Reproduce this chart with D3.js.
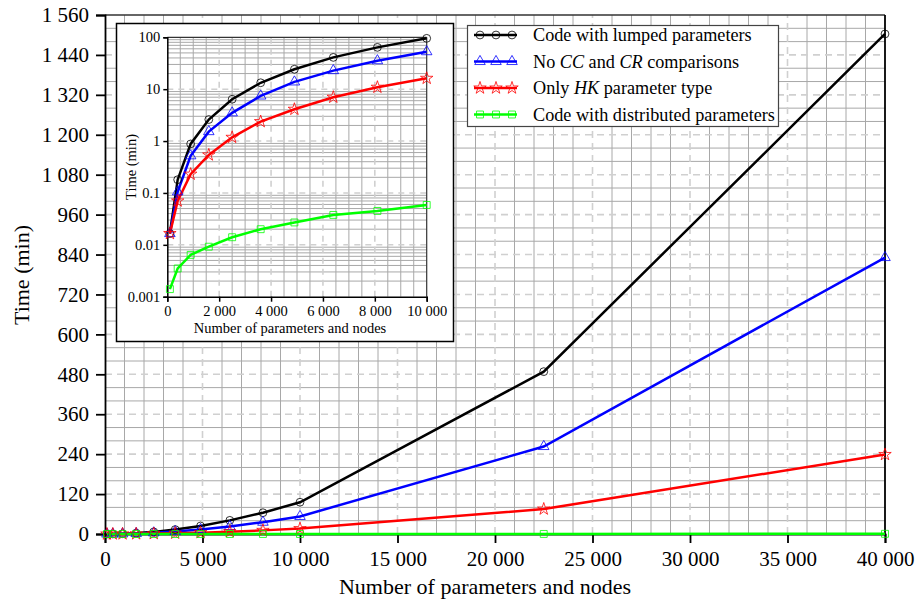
<!DOCTYPE html>
<html>
<head>
<meta charset="utf-8">
<script src="https://cdn.jsdelivr.net/npm/d3@7"></script>
<style>
  body { margin: 0; background: #fff; }
  svg text { font-family: "Liberation Serif", "Times New Roman", Times, serif !important; }
</style>
</head>
<body>
<svg id="chart" width="919" height="601"></svg>
<script>
// Data (x = number of parameters and nodes, y = time in minutes)
const nodes = [100, 400, 900, 1600, 2500, 3600, 4900, 6400, 8100, 10000, 22500, 40000];
const lumped = [0.0165, 0.18, 0.88, 2.6, 6.4, 13.3, 24.2, 41, 64, 95.5, 488, 1503];
const noCCCR = [0.0165, 0.105, 0.52, 1.52, 3.5, 7.4, 13.8, 22.8, 35.4, 52.8, 263, 831];
const onlyHK = [0.0165, 0.07, 0.23, 0.54, 1.18, 2.37, 4.1, 7.0, 10.9, 16.2, 75, 239];
const distributed = [0.0014, 0.0035, 0.0064, 0.0092, 0.014, 0.020, 0.027, 0.0377, 0.045, 0.0587, 0.2, 0.55];

const yTicks = d3.range(0, 1561, 120);
const xTicks = d3.range(0, 40001, 5000);
const insetXTicks = d3.range(0, 10001, 2000);
const insetYTicks = [0.001, 0.01, 0.1, 1, 10, 100];

const series = [
  { name: "lumped", values: lumped, color: "#000000", symbol: d3.symbolCircle, label: [["Code with lumped parameters", false]] },
  { name: "nocc", values: noCCCR, color: "#0000ff", symbol: d3.symbolTriangle, label: [["No ", false], ["CC", true], [" and ", false], ["CR", true], [" comparisons", false]] },
  { name: "hk", values: onlyHK, color: "#ff0000", symbol: d3.symbolStar, label: [["Only ", false], ["HK", true], [" parameter type", false]] },
  { name: "dist", values: distributed, color: "#00ff00", symbol: d3.symbolSquare, label: [["Code with distributed parameters", false]] }
];

const loc = d3.formatLocale({ decimal: ".", thousands: "\u00a0", grouping: [3], currency: ["", ""] });
const fmt = loc.format(",d");

const svg = d3.select("#chart");

// ---- main chart ----
const x = d3.scaleLinear().domain([0, 40000]).range([105, 885]);
const y = d3.scaleLinear().domain([0, 1560]).range([534, 15]);

const grid = svg.append("g");
// minor grid
grid.selectAll(".vmin")
  .data(d3.range(0, 40001, 1000).filter(d => d % 5000 !== 0))
  .enter().append("line")
  .attr("x1", d => x(d)).attr("x2", d => x(d))
  .attr("y1", y(0)).attr("y2", y(1560))
  .attr("stroke", "#a8a8a8").attr("stroke-width", 1);
grid.selectAll(".hmin")
  .data(d3.range(0, 1561, 40).filter(d => d % 120 !== 0))
  .enter().append("line")
  .attr("x1", x(0)).attr("x2", x(40000))
  .attr("y1", d => y(d)).attr("y2", d => y(d))
  .attr("stroke", "#a8a8a8").attr("stroke-width", 1);
// major dashed grid
grid.selectAll(".vmaj")
  .data(xTicks.filter(d => d > 0 && d < 40000))
  .enter().append("line")
  .attr("x1", d => x(d)).attr("x2", d => x(d))
  .attr("y1", y(0)).attr("y2", y(1560))
  .attr("stroke", "#d0d0d0").attr("stroke-width", 1.6).attr("stroke-dasharray", "7,5");
grid.selectAll(".hmaj")
  .data(yTicks.filter(d => d > 0 && d < 1560))
  .enter().append("line")
  .attr("x1", x(0)).attr("x2", x(40000))
  .attr("y1", d => y(d)).attr("y2", d => y(d))
  .attr("stroke", "#d0d0d0").attr("stroke-width", 1.6).attr("stroke-dasharray", "7,5");

// frame top/right
svg.append("line").attr("x1", x(0)).attr("x2", x(40000)).attr("y1", y(1560)).attr("y2", y(1560))
  .attr("stroke", "#333").attr("stroke-width", 1.5);
svg.append("line").attr("x1", x(40000)).attr("x2", x(40000)).attr("y1", y(1560)).attr("y2", y(0))
  .attr("stroke", "#000").attr("stroke-width", 1.8);

// axes
const yAxis = d3.axisLeft(y).tickValues(yTicks).tickSize(9).tickPadding(7).tickFormat(fmt);
const xAxis = d3.axisBottom(x).tickValues(xTicks).tickSize(9).tickPadding(8).tickFormat(fmt);
const gy = svg.append("g").attr("transform", `translate(${x(0)},0)`).call(yAxis);
const gx = svg.append("g").attr("transform", `translate(0,${y(0)})`).call(xAxis);
[gy, gx].forEach(g => {
  g.attr("font-family", null);
  g.select(".domain").attr("stroke", "#000").attr("stroke-width", 1.8);
  g.selectAll(".tick line").attr("stroke", "#000").attr("stroke-width", 1.8);
  g.selectAll("text").attr("font-size", 21).attr("fill", "#000");
});

svg.append("text")
  .attr("x", 485).attr("y", 594)
  .attr("text-anchor", "middle").attr("font-size", 22)
  .text("Number of parameters and nodes");
svg.append("text")
  .attr("transform", "translate(29,275) rotate(-90)")
  .attr("text-anchor", "middle").attr("font-size", 22)
  .text("Time (min)");

// lines and markers
const line = d3.line().x((d, i) => x(nodes[i])).y(d => y(d));
series.forEach(s => {
  svg.append("path")
    .datum(s.values)
    .attr("d", line)
    .attr("fill", "none")
    .attr("stroke", s.color)
    .attr("stroke-width", 2.5);
});
series.forEach(s => {
  svg.selectAll(".m-" + s.name)
    .data(s.values)
    .enter().append("path")
    .attr("transform", (d, i) => `translate(${x(nodes[i])},${y(d)})`)
    .attr("d", d3.symbol().type(s.symbol).size(48))
    .attr("fill", "none")
    .attr("stroke", s.color)
    .attr("stroke-width", 0.8);
});

// ---- inset ----
const inset = svg.append("g");
inset.append("rect")
  .attr("x", 116.5).attr("y", 23.5).attr("width", 337).attr("height", 318)
  .attr("fill", "#fff").attr("stroke", "#000").attr("stroke-width", 1.5);

const xi = d3.scaleLinear().domain([0, 10000]).range([167.3, 426.7]);
const yi = d3.scaleLog().domain([0.001, 100]).range([296.7, 37.3]);

const minorLog = [];
[0.001, 0.01, 0.1, 1, 10].forEach(dec => d3.range(2, 10).forEach(k => minorLog.push(dec * k)));

inset.selectAll(".ivmin")
  .data(d3.range(500, 10000, 500).filter(d => d % 2000 !== 0))
  .enter().append("line")
  .attr("x1", d => xi(d)).attr("x2", d => xi(d))
  .attr("y1", yi(0.001)).attr("y2", yi(100))
  .attr("stroke", "#a8a8a8").attr("stroke-width", 1);
inset.selectAll(".ihmin")
  .data(minorLog)
  .enter().append("line")
  .attr("x1", xi(0)).attr("x2", xi(10000))
  .attr("y1", d => yi(d)).attr("y2", d => yi(d))
  .attr("stroke", "#a8a8a8").attr("stroke-width", 1);
inset.selectAll(".ivmaj")
  .data(insetXTicks.filter(d => d > 0 && d < 10000))
  .enter().append("line")
  .attr("x1", d => xi(d)).attr("x2", d => xi(d))
  .attr("y1", yi(0.001)).attr("y2", yi(100))
  .attr("stroke", "#d0d0d0").attr("stroke-width", 1.6).attr("stroke-dasharray", "6,5");
inset.selectAll(".ihmaj")
  .data(insetYTicks.filter(d => d > 0.001 && d < 100))
  .enter().append("line")
  .attr("x1", xi(0)).attr("x2", xi(10000))
  .attr("y1", d => yi(d)).attr("y2", d => yi(d))
  .attr("stroke", "#d0d0d0").attr("stroke-width", 1.6).attr("stroke-dasharray", "6,5");

inset.append("line").attr("x1", xi(0)).attr("x2", xi(10000)).attr("y1", yi(100)).attr("y2", yi(100))
  .attr("stroke", "#333").attr("stroke-width", 1.2);
inset.append("line").attr("x1", xi(10000)).attr("x2", xi(10000)).attr("y1", yi(100)).attr("y2", yi(0.001))
  .attr("stroke", "#333").attr("stroke-width", 1.2);

const iyAxis = d3.axisLeft(yi).tickValues(insetYTicks).tickSize(4).tickPadding(3).tickFormat(d => String(d));
const ixAxis = d3.axisBottom(xi).tickValues(insetXTicks).tickSize(5).tickPadding(4).tickFormat(fmt);
const giy = inset.append("g").attr("transform", `translate(${xi(0)},0)`).call(iyAxis);
const gix = inset.append("g").attr("transform", `translate(0,${yi(0.001)})`).call(ixAxis);
[giy, gix].forEach(g => {
  g.attr("font-family", null);
  g.select(".domain").attr("stroke", "#000").attr("stroke-width", 1.5);
  g.selectAll(".tick line").attr("stroke", "#000").attr("stroke-width", 1.5);
  g.selectAll("text").attr("font-size", 14.5).attr("fill", "#000");
});
inset.append("text")
  .attr("x", 290).attr("y", 333)
  .attr("text-anchor", "middle").attr("font-size", 14.5)
  .text("Number of parameters and nodes");
inset.append("text")
  .attr("transform", "translate(136,167) rotate(-90)")
  .attr("text-anchor", "middle").attr("font-size", 14.5)
  .text("Time (min)");

const nIn = nodes.filter(d => d <= 10000).length;
const iline = d3.line().x((d, i) => xi(nodes[i])).y(d => yi(d));
series.forEach(s => {
  inset.append("path")
    .datum(s.values.slice(0, nIn))
    .attr("d", iline)
    .attr("fill", "none")
    .attr("stroke", s.color)
    .attr("stroke-width", 2.5);
});
series.forEach(s => {
  inset.selectAll(".im-" + s.name)
    .data(s.values.slice(0, nIn))
    .enter().append("path")
    .attr("transform", (d, i) => `translate(${xi(nodes[i])},${yi(d)})`)
    .attr("d", d3.symbol().type(s.symbol).size(48))
    .attr("fill", "none")
    .attr("stroke", s.color)
    .attr("stroke-width", 0.8);
});

// ---- legend ----
const legend = svg.append("g");
legend.append("rect")
  .attr("x", 467.5).attr("y", 25.5).attr("width", 311).attr("height", 101)
  .attr("fill", "#fff").attr("stroke", "#444").attr("stroke-width", 1.2);

series.forEach((s, i) => {
  const cy = 35 + i * 26.5;
  legend.append("line")
    .attr("x1", 474).attr("x2", 517).attr("y1", cy).attr("y2", cy)
    .attr("stroke", s.color).attr("stroke-width", 2.5);
  [480, 496, 512].forEach(mx => {
    legend.append("path")
      .attr("transform", `translate(${mx},${cy})`)
      .attr("d", d3.symbol().type(s.symbol).size(48))
      .attr("fill", "none")
      .attr("stroke", s.color)
      .attr("stroke-width", 0.8);
  });
  const t = legend.append("text")
    .attr("x", 533).attr("y", cy + 6)
    .attr("font-size", 18.2);
  s.label.forEach(([str, it]) => {
    t.append("tspan").attr("font-style", it ? "italic" : "normal").text(str);
  });
});
</script>
</body>
</html>
